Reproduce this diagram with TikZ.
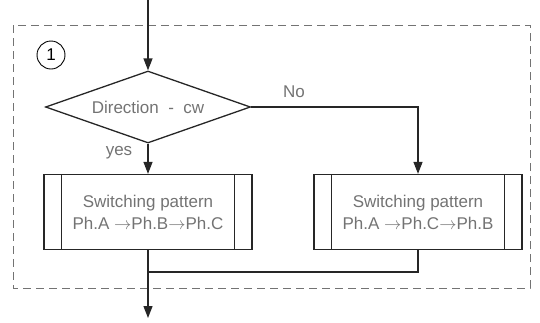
\documentclass[tikz,border=0pt]{standalone}
\usepackage{fontspec}
\setmainfont{Liberation Sans}
\usetikzlibrary{shapes.geometric,arrows.meta}

\tikzset{
  flow/.style={line width=1.3pt, black!85},
  arr/.style={flow, -{Triangle[length=12pt,width=9pt]}},
  lbl/.style={text=black!55, font=\fontsize{17}{22}\selectfont, inner sep=0pt},
  decision/.style={draw, flow, shape=diamond, minimum width=205pt, minimum height=72pt,
    inner sep=0pt, aspect=2.85, lbl},
  subproc/.style={draw, flow, rectangle, minimum width=208pt, minimum height=75pt,
    inner sep=0pt, align=center, lbl},
  frame/.style={draw=black!55, line width=0.9pt, dash pattern=on 8pt off 5pt},
}

\begin{document}
\begin{tikzpicture}[x=1pt, y=-1pt]
  \useasboundingbox (0,0) rectangle (540,322);

  % dashed boundary of block 1
  \draw[frame] (13,25) rectangle (530,288);

  % block number
  \node[draw, circle, line width=0.9pt, minimum size=28pt, inner sep=0pt, lbl, text=black]
    (num) at (51,55) {1};

  % decision and the two switching patterns
  \node[decision] (dec) at (148,107) {Direction\ \ -\ \ cw};
  \node[subproc] (L) at (148,212) {Switching pattern\\Ph.A $\rightarrow$Ph.B$\rightarrow$Ph.C};
  \node[subproc] (R) at (418,212) {Switching pattern\\Ph.A $\rightarrow$Ph.C$\rightarrow$Ph.B};

  % side bars of the predefined-process boxes
  \foreach \b in {L,R}{
    \draw[flow] ([xshift=18pt]\b.north west) -- ([xshift=18pt]\b.south west);
    \draw[flow] ([xshift=-18pt]\b.north east) -- ([xshift=-18pt]\b.south east);
  }

  % connectors
  \coordinate (in) at (148,0);
  \coordinate (out) at (148,318);
  \coordinate (join) at (148,272);

  \draw[arr] (in) -- (dec.north);
  \draw[arr] (dec.south) -- (L.north);
  \draw[arr] (dec.east) -| (R.north);
  \draw[arr] (L.south) -- (out);
  \draw[flow] (R.south) |- (join);

  % branch labels
  \node[lbl, anchor=base] (yes) at (119,155) {yes};
  \node[lbl, anchor=base] (no) at (294,97) {No};
\end{tikzpicture}
\end{document}
